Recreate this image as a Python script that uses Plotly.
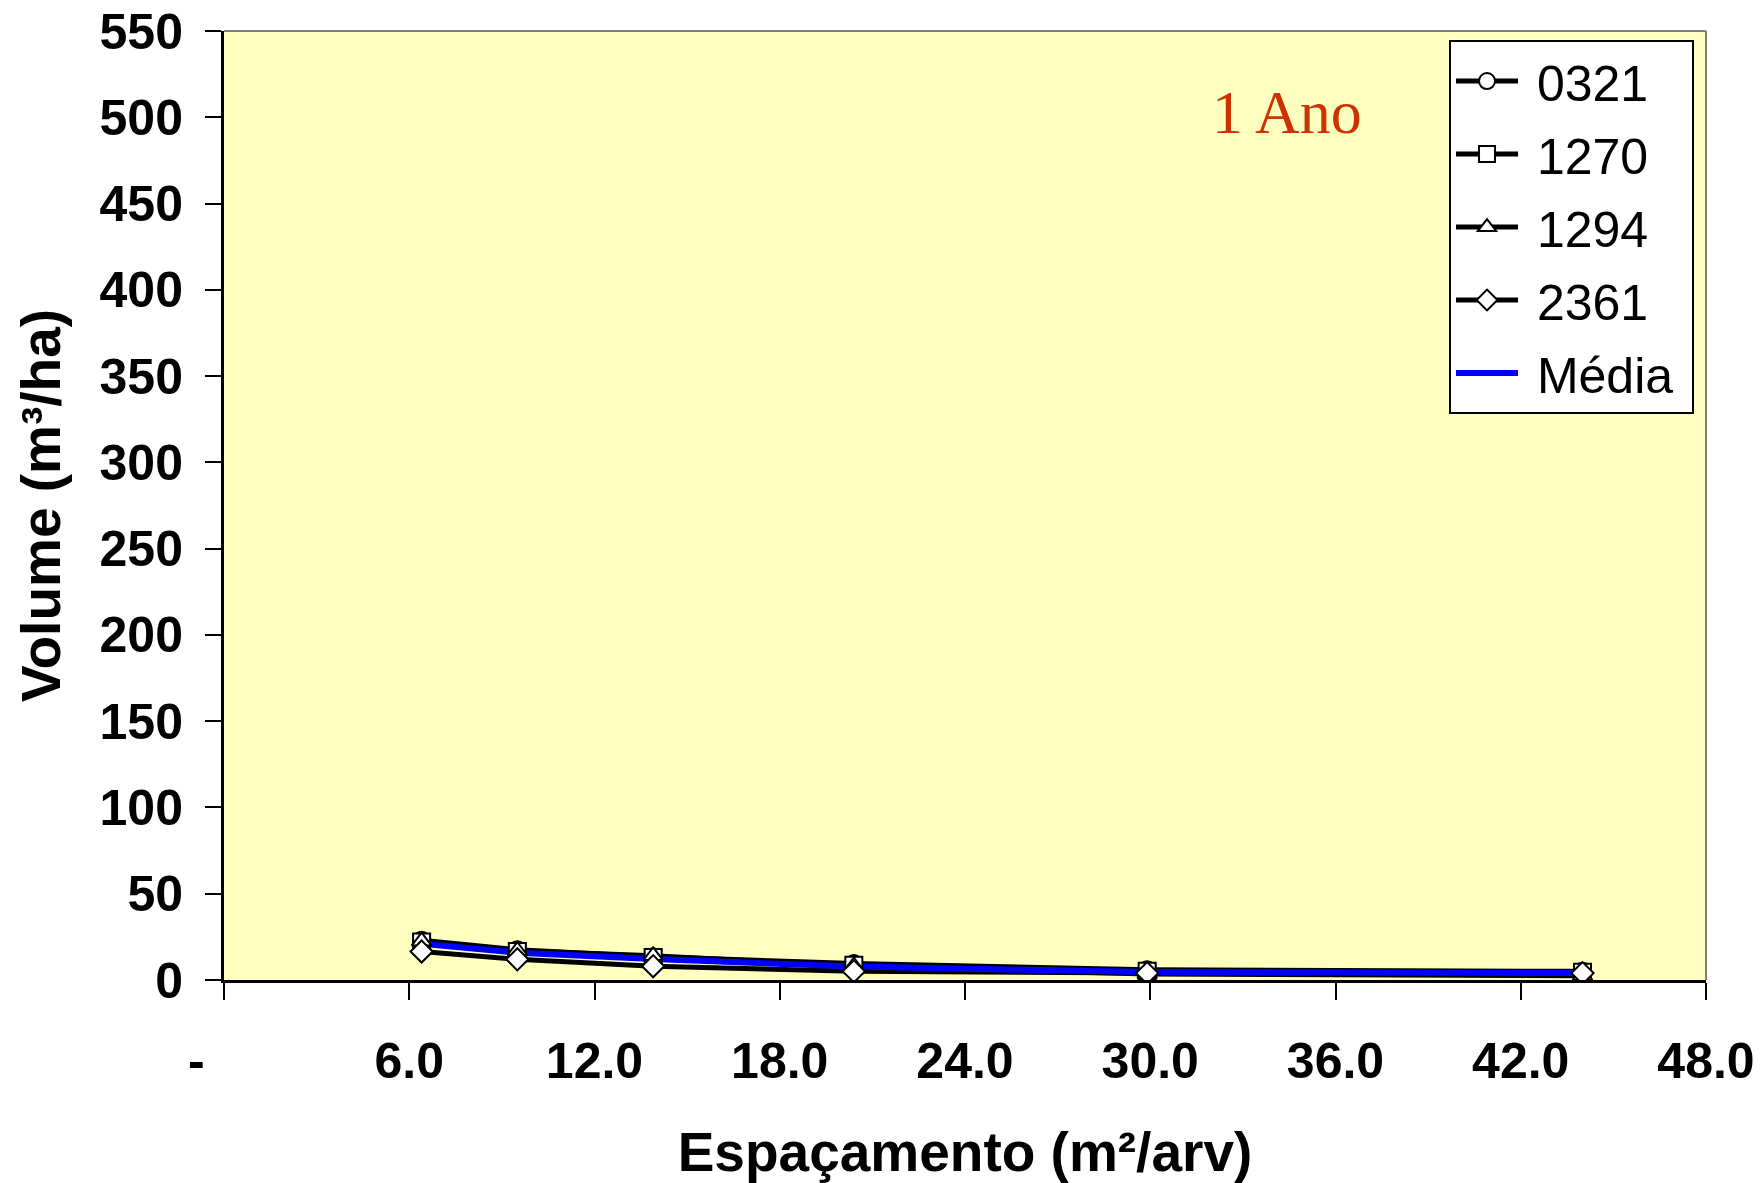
import plotly.graph_objects as go

espacamento = [6.4, 9.5, 13.9, 20.4, 29.9, 44.0]
v_0321 = [23.0, 17.5, 13.5, 9.5, 6.0, 5.0]
v_1270 = [22.0, 16.5, 13.0, 8.5, 5.0, 4.5]
v_1294 = [22.5, 17.0, 14.0, 8.0, 3.5, 2.5]
v_2361 = [16.5, 12.0, 8.0, 5.0, 4.0, 4.0]
v_media = [21.0, 15.8, 12.1, 7.8, 4.6, 4.0]

x_tickvals = [0, 6, 12, 18, 24, 30, 36, 42, 48]
x_ticktext = ["-\u00a0\u00a0\u00a0\u00a0", "6.0", "12.0", "18.0", "24.0", "30.0", "36.0", "42.0", "48.0"]

series = [
    ("0321", v_0321, "circle"),
    ("1270", v_1270, "square"),
    ("1294", v_1294, "triangle-up"),
    ("2361", v_2361, "diamond"),
]

NB = "\u00a0"

fig = go.Figure()
for name, vals, sym in series:
    fig.add_trace(go.Scatter(
        x=espacamento, y=vals, name=NB + name, mode="lines+markers",
        legendgroup=name,
        line=dict(color="black", width=5),
        marker=dict(symbol=sym, size=16, color="white",
                    line=dict(color="black", width=2)),
    ))
fig.add_trace(go.Scatter(
    x=espacamento, y=v_media, name=NB + "Média" + NB, mode="lines",
    legendgroup="media",
    line=dict(color="#0000FF", width=6),
))
for name, vals, sym in series:
    fig.add_trace(go.Scatter(
        x=espacamento, y=vals, mode="markers", showlegend=False,
        marker=dict(symbol=sym, size=17, color="white",
                    line=dict(color="black", width=2)),
        hoverinfo="skip",
    ))

tick_font = dict(family="Liberation Sans, Arial", size=50, color="black", weight="bold")
title_font = dict(family="Liberation Sans, Arial", size=55, color="black", weight="bold")

fig.update_layout(
    width=1760, height=1183,
    margin=dict(l=224, r=54, t=31, b=203),
    paper_bgcolor="white",
    plot_bgcolor="#FFFFC0",
    showlegend=True,
    legend=dict(
        x=0.8266, y=0.9905, xanchor="left", yanchor="top",
        bgcolor="white", bordercolor="black", borderwidth=2,
        font=dict(family="Liberation Sans, Arial", size=50, color="black"),
        itemwidth=62, tracegroupgap=5,
    ),
    annotations=[dict(
        x=0.717, y=0.915, xref="paper", yref="paper",
        text="1 Ano", showarrow=False, xanchor="center", yanchor="middle",
        font=dict(family="Liberation Serif, Times New Roman", size=62, color="#CC3300"),
    )],
    shapes=[
        dict(type="line", xref="x domain", yref="y domain", x0=0, x1=1, y0=1, y1=1,
             line=dict(color="#808080", width=2)),
        dict(type="line", xref="x domain", yref="y domain", x0=1, x1=1, y0=0, y1=1,
             line=dict(color="#808080", width=2)),
    ],
)

fig.update_xaxes(
    range=[0, 48], tickvals=x_tickvals, ticktext=x_ticktext,
    showgrid=False, zeroline=False, automargin=False,
    showline=True, linecolor="black", linewidth=3,
    ticks="outside", ticklen=17, tickwidth=2, tickcolor="black",
    tickfont=tick_font, ticklabelstandoff=18,
    title=dict(text="Espaçamento (m²/arv)", font=title_font, standoff=45),
)
fig.update_yaxes(
    range=[0, 550], dtick=50, tick0=0,
    showgrid=False, zeroline=False, automargin=False,
    showline=True, linecolor="black", linewidth=3,
    ticks="outside", ticklen=16, tickwidth=2, tickcolor="black",
    tickfont=tick_font, ticklabelstandoff=12,
    title=dict(text="Volume (m³/ha)", font=title_font, standoff=22),
)

fig.write_html("out.html")
